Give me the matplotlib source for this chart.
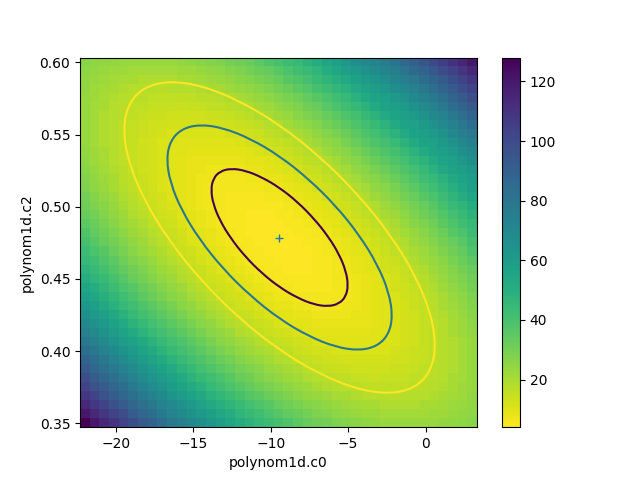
import matplotlib
matplotlib.use("Agg")
import matplotlib.pyplot as plt
from matplotlib.patches import PathPatch
from matplotlib.path import Path

# axis limits of the image
c0_range = [-22.31, 3.30]
c2_range = [0.3473, 0.6033]

# statistic per cell, top row first
stat = [
    [26,25,24,24,23,23,23,23,23,23,24,25,26,27,28,30,31,33,35,38,40,43,45,48,51,55,58,62,66,70,72,76,80,85,90,95,100,105,110,115,120],
    [25,24,23,22,22,21,21,21,21,21,22,22,23,24,25,27,28,30,32,34,36,39,42,44,47,51,54,58,61,65,68,72,76,81,85,89,94,99,104,109,114],
    [24,23,22,21,20,20,19,19,19,19,20,20,21,22,23,24,26,27,29,31,33,36,38,41,44,47,50,53,57,60,63,67,71,75,79,84,88,93,98,103,108],
    [24,22,21,20,19,18,18,18,17,18,18,18,19,20,20,22,23,24,26,28,30,32,35,37,40,43,46,49,53,56,59,62,66,70,74,78,83,88,93,98,103],
    [23,22,20,19,18,17,17,16,16,16,16,16,17,17,18,19,20,22,23,25,27,29,31,34,36,39,42,45,49,52,56,58,61,65,70,74,78,83,88,93,98],
    [23,21,20,18,17,16,16,15,15,15,14,15,15,16,16,17,18,19,21,22,24,26,28,31,33,36,39,42,45,48,52,56,58,61,65,69,73,78,83,88,93],
    [23,21,19,18,17,16,15,14,14,13,13,13,13,14,14,15,16,17,19,20,22,23,26,28,30,33,35,38,41,45,48,52,56,58,61,65,69,73,78,83,88],
    [23,21,19,18,16,15,14,13,13,12,12,12,12,12,13,13,14,15,16,18,19,21,23,25,27,30,32,35,38,41,44,48,52,56,57,61,65,69,74,78,83],
    [23,21,19,18,16,15,14,13,12,11,11,11,11,11,11,12,12,13,14,16,17,19,20,22,24,27,29,32,35,38,41,44,48,52,56,58,61,65,70,74,79],
    [23,21,19,18,16,15,13,12,11,11,10,10,10,10,10,10,11,12,13,14,15,16,18,20,22,24,26,29,32,35,38,41,44,48,52,56,57,61,65,70,74],
    [24,22,20,18,16,15,13,12,11,10,10,9,9,9,9,9,9,10,11,12,13,14,16,18,19,22,24,26,29,32,35,38,41,44,48,52,56,58,61,66,70],
    [25,22,20,18,16,15,13,12,11,10,9,8,8,8,8,8,8,9,9,10,11,13,14,16,17,19,21,24,26,29,32,35,38,41,45,48,52,56,58,62,66],
    [26,23,21,19,17,15,13,12,11,10,9,8,8,7,7,7,7,8,8,9,10,11,12,14,15,17,19,21,24,26,29,32,35,38,41,45,49,53,57,58,62],
    [27,24,22,20,17,16,14,12,11,10,9,8,7,7,6,6,6,7,7,8,8,9,11,12,13,15,17,19,21,24,26,29,32,35,38,42,45,49,53,56,59],
    [28,25,23,20,18,16,14,13,11,10,9,8,7,6,6,6,6,6,6,7,7,8,9,10,12,13,15,17,19,21,24,26,29,32,35,39,42,46,50,54,58],
    [30,27,24,22,19,17,15,13,12,10,9,8,7,6,6,5,5,5,5,6,6,7,8,9,10,12,13,15,17,19,22,24,27,30,33,36,39,43,47,51,55],
    [31,28,26,23,20,18,16,14,12,11,9,8,7,6,6,5,5,5,5,5,5,6,7,8,9,10,12,13,15,17,19,22,24,27,30,33,36,40,44,47,51],
    [33,30,27,24,22,19,17,15,13,12,10,9,8,7,6,5,5,4,4,4,5,5,6,7,8,9,10,12,14,16,18,20,22,25,28,31,34,37,41,44,48],
    [35,32,29,26,23,21,19,16,14,13,11,9,8,7,6,5,5,4,4,4,4,5,5,6,7,8,9,11,12,14,16,18,20,23,26,28,31,35,38,42,45],
    [38,34,31,28,25,22,20,18,16,14,12,10,9,8,7,6,5,4,4,4,4,4,5,5,6,7,8,9,11,13,14,16,19,21,23,26,29,32,36,39,43],
    [40,36,33,30,27,24,22,19,17,15,13,11,10,8,7,6,5,5,4,4,4,4,4,5,5,6,7,8,10,11,13,15,17,19,22,24,27,30,33,36,40],
    [43,39,36,32,29,26,23,21,19,16,14,13,11,9,8,7,6,5,5,4,4,4,4,4,5,6,7,8,9,10,12,14,16,18,20,22,25,28,31,34,38],
    [45,42,38,35,31,28,26,23,20,18,16,14,12,11,9,8,7,6,5,5,4,4,4,4,5,5,6,7,8,9,11,13,14,16,19,21,23,26,29,32,35],
    [48,44,41,37,34,31,28,25,22,20,18,16,14,12,10,9,8,7,6,5,5,4,4,4,5,5,6,7,8,9,10,12,13,15,17,19,22,24,27,30,33],
    [51,47,44,40,36,33,30,27,24,22,19,17,15,13,12,10,9,8,7,6,5,5,5,5,5,5,6,6,7,8,9,11,12,14,16,18,20,23,26,28,31],
    [55,51,47,43,39,36,33,30,27,24,22,19,17,15,13,12,10,9,8,7,6,6,5,5,5,5,6,6,7,8,9,10,12,13,15,17,19,22,24,27,30],
    [58,54,50,46,42,39,35,32,29,26,24,21,19,17,15,13,12,10,9,8,7,7,6,6,6,6,6,6,7,8,9,10,11,13,14,16,18,20,23,25,28],
    [62,58,53,49,45,42,38,35,32,29,26,24,21,19,17,15,13,12,11,9,8,8,7,7,6,6,6,7,7,8,9,10,11,12,14,16,17,20,22,24,27],
    [66,61,57,53,49,45,41,38,35,32,29,26,24,21,19,17,15,14,12,11,10,9,8,8,7,7,7,7,8,8,9,10,11,12,13,15,17,19,21,23,26],
    [70,65,61,56,52,48,45,41,38,35,32,29,26,24,21,19,17,16,14,13,11,10,9,9,8,8,8,8,8,8,9,10,11,12,13,15,16,18,20,22,25],
    [74,69,65,60,56,52,48,44,41,38,35,32,29,26,24,22,19,18,16,14,13,12,11,10,9,9,9,9,9,9,10,10,11,12,13,15,16,18,20,22,24],
    [78,74,69,64,60,56,52,48,44,41,38,35,32,29,26,24,22,20,18,16,15,14,13,12,11,10,10,10,10,10,10,11,11,12,13,15,16,18,19,21,23],
    [83,78,73,69,64,60,56,52,48,44,41,38,35,32,29,27,24,22,20,19,17,16,14,13,12,12,11,11,11,11,11,11,12,13,14,15,16,18,19,21,23],
    [88,83,78,73,68,64,60,56,52,48,44,41,38,35,32,30,27,25,23,21,19,18,16,15,14,13,13,12,12,12,12,12,13,13,14,15,16,18,19,21,23],
    [93,87,82,77,73,68,64,60,56,52,48,45,41,38,35,33,30,28,26,23,22,20,19,17,16,15,14,14,13,13,13,13,14,14,15,16,17,18,19,21,23],
    [98,92,87,82,77,73,68,64,60,56,52,48,45,42,39,36,33,31,28,26,24,22,21,19,18,17,16,16,15,15,14,15,15,15,16,16,17,18,20,21,23],
    [103,97,92,87,82,77,73,68,64,60,56,52,49,45,42,39,36,34,31,29,27,25,23,22,20,19,18,17,17,16,16,16,16,16,17,17,18,19,20,22,23],
    [108,103,97,92,87,82,77,73,69,64,60,56,53,49,46,43,40,37,35,32,30,28,26,24,23,22,20,20,19,18,18,18,17,18,18,18,19,20,21,22,24],
    [114,108,103,97,92,87,82,78,73,69,65,61,57,53,50,47,44,41,38,36,33,31,29,27,26,24,23,22,21,20,20,19,19,19,19,20,20,21,22,23,24],
    [120,114,108,103,98,92,87,83,78,73,69,65,61,58,54,51,47,44,42,39,36,34,32,30,28,27,25,24,23,22,22,21,21,21,21,21,22,22,23,24,25],
    [128,120,114,109,103,98,93,88,83,78,74,70,66,62,58,55,51,48,45,43,40,38,35,33,31,30,28,27,26,25,24,23,23,23,23,23,23,24,24,25,26],
]

# best fit position
best_c0 = -9.44
best_c2 = 0.4783

# contour lines
inner_c0 = [-5.0,-5.15,-5.59,-6.3,-7.22,-8.28,-9.43,-10.58,-11.65,-12.56,-13.27,-13.71,-13.86,-13.71,-13.27,-12.56,-11.65,-10.58,-9.43,-8.28,-7.22,-6.3,-5.59,-5.15]
inner_c2 = [0.4456,0.4378,0.4328,0.4309,0.4323,0.4369,0.4442,0.454,0.4655,0.4778,0.4902,0.5018,0.5118,0.5196,0.5246,0.5265,0.5251,0.5205,0.5132,0.5034,0.4919,0.4796,0.4672,0.4556]
middle_c0 = [-2.13,-2.38,-3.11,-4.27,-5.78,-7.54,-9.43,-11.32,-13.08,-14.59,-15.75,-16.48,-16.73,-16.48,-15.75,-14.59,-13.08,-11.32,-9.43,-7.54,-5.78,-4.27,-3.11,-2.38]
middle_c2 = [0.4244,0.4117,0.4035,0.4004,0.4027,0.4102,0.4222,0.4383,0.457,0.4772,0.4975,0.5165,0.533,0.5457,0.5539,0.557,0.5547,0.5472,0.5352,0.5191,0.5004,0.4802,0.4599,0.4409]
outer_c0 = [0.67,0.33,-0.68,-2.29,-4.38,-6.81,-9.43,-12.05,-14.48,-16.57,-18.18,-19.19,-19.53,-19.19,-18.18,-16.57,-14.48,-12.05,-9.43,-6.81,-4.38,-2.29,-0.68,0.33]
outer_c2 = [0.4036,0.3859,0.3745,0.3703,0.3734,0.3838,0.4005,0.4228,0.4487,0.4766,0.5047,0.5311,0.5538,0.5715,0.5829,0.5871,0.584,0.5736,0.5569,0.5346,0.5087,0.4808,0.4527,0.4263]


def smoothLoop(xs, ys, color):
    # closed curve through the read points, points are the bezier controls
    n = len(xs)
    verts = [((xs[-1] + xs[0]) / 2, (ys[-1] + ys[0]) / 2)]
    codes = [Path.MOVETO]
    for i in range(n):
        j = (i + 1) % n
        verts.append((xs[i], ys[i]))
        verts.append(((xs[i] + xs[j]) / 2, (ys[i] + ys[j]) / 2))
        codes += [Path.CURVE3, Path.CURVE3]
    return PathPatch(Path(verts, codes), facecolor="none", edgecolor=color, linewidth=1.5)


fig, ax = plt.subplots()
im = ax.imshow(stat, cmap="viridis_r", aspect="auto", interpolation="nearest",
               extent=[c0_range[0], c0_range[1], c2_range[0], c2_range[1]])
fig.colorbar(im)

ax.add_patch(smoothLoop(inner_c0, inner_c2, "#440154"))
ax.add_patch(smoothLoop(middle_c0, middle_c2, "#2a788e"))
ax.add_patch(smoothLoop(outer_c0, outer_c2, "#fde725"))
ax.plot(best_c0, best_c2, "+", color="C0")

ax.set_xlim(c0_range)
ax.set_ylim(c2_range)
ax.set_xlabel("polynom1d.c0")
ax.set_ylabel("polynom1d.c2")

fig.savefig("out.png")
